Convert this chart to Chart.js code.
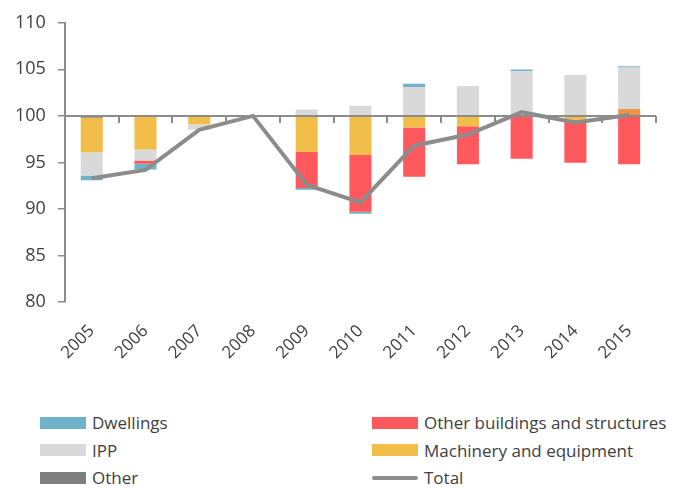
<!DOCTYPE html>
<html>
<head>
<meta charset="utf-8">
<script src="https://cdn.jsdelivr.net/npm/chart.js@4"></script>
<style>
  body { margin: 0; background: #fff; font-family: "Open Sans", sans-serif; }
  #wrap { position: relative; width: 676px; height: 488px; }
  #chartBox { position: absolute; left: 0; top: 0; width: 676px; height: 378px; }
  #legend {
    position: absolute; left: 40px; top: 409px;
    display: grid; grid-template-columns: 332px 300px;
  }
  .item { display: flex; align-items: center; height: 27.5px; font-size: 17px; color: #404040; white-space: nowrap; }
  .sw { width: 46px; height: 12px; margin-right: 6px; flex: none; }
  .sw.line { height: 4px; border-radius: 2px; }
</style>
</head>
<body>
<div id="wrap">
  <div id="chartBox"><canvas id="investChart"></canvas></div>
  <div id="legend"></div>
</div>
<script>
const years = ["2005", "2006", "2007", "2008", "2009", "2010", "2011", "2012", "2013", "2014", "2015"];

// contributions in index points (2008 = 100)
const dwellings      = [-0.5, -0.6, 0, 0, -0.2, -0.2, 0.35, 0, 0.18, 0, 0.14];
const otherBuildings = [0, -0.35, 0, 0, -3.87, -6.1, -5.3, -4.1, -4.6, -4.6, -5.2];
const ipp            = [-2.5, -1.2, -0.58, 0, 0.7, 1.1, 3.1, 3.2, 4.8, 4.4, 4.45];
const machinery      = [-3.7, -3.5, -0.8, 0, -3.87, -4.2, -1.25, -1.1, 0, -0.43, 0.75];
const other          = [-0.2, -0.1, -0.1, 0, 0, 0, 0, 0, 0, 0, 0];
const total          = [93.3, 94.2, 98.5, 100, 92.6, 90.7, 96.8, 98.0, 100.4, 99.3, 100.1];

const yTicks = [80, 85, 90, 95, 100, 105, 110];
const BASE = 100;

const legendOrder = ["Dwellings", "Other buildings and structures", "IPP", "Machinery and equipment", "Other", "Total"];

const textColor = "#404040";
const axisColor = "#8c8c8c";

// x axis is drawn at 100, with tick marks between the years
const baseAxis = {
  id: "baseAxis",
  beforeDatasetDraw(chart, args) {
    if (args.meta.type !== "line") return;
    const { ctx, chartArea, scales } = chart;
    const x = scales.x, y = scales.y;
    const yPix = y.getPixelForValue(0);
    const step = x.getPixelForValue(1) - x.getPixelForValue(0);
    ctx.save();
    ctx.strokeStyle = axisColor;
    ctx.lineWidth = 2;
    ctx.beginPath();
    ctx.moveTo(chartArea.left, yPix);
    ctx.lineTo(chartArea.right, yPix);
    for (let i = 0; i <= years.length; i++) {
      const px = Math.round(x.getPixelForValue(i) - step / 2);
      ctx.moveTo(px, yPix);
      ctx.lineTo(px, yPix + 7);
    }
    ctx.stroke();
    ctx.restore();
  },
};

function bar(label, values, color) {
  return {
    label: label,
    data: values,
    backgroundColor: color,
    borderWidth: 0,
    barPercentage: 1,
    categoryPercentage: 0.41,
    order: 1,
  };
}

const datasets = [
  bar("Other", other, "#7f7f7f"),
  bar("Machinery and equipment", machinery, machinery.map(v => (v > 0 ? "#f39443" : "#f2be4a"))),
  bar("IPP", ipp, "#d9d9d9"),
  bar("Other buildings and structures", otherBuildings, "#ff585d"),
  bar("Dwellings", dwellings, "#6fb2c9"),
  {
    type: "line",
    label: "Total",
    data: total.map(v => v - BASE),
    borderColor: axisColor,
    borderWidth: 4,
    pointRadius: 0,
    tension: 0,
    fill: false,
    stack: "total",
    order: 0,
  },
];

const chart = new Chart(document.getElementById("investChart"), {
  type: "bar",
  data: { labels: years, datasets: datasets },
  options: {
    responsive: true,
    maintainAspectRatio: false,
    animation: false,
    layout: { padding: { top: 6, right: 20, left: 3, bottom: 4 } },
    plugins: {
      legend: { display: false },
      tooltip: { enabled: false },
    },
    scales: {
      x: {
        stacked: true,
        grid: { display: false },
        border: { display: false },
        ticks: {
          minRotation: 45,
          maxRotation: 45,
          padding: 11,
          color: textColor,
          font: { family: "Open Sans", size: 17 },
        },
      },
      y: {
        stacked: true,
        min: yTicks[0] - BASE,
        max: yTicks[yTicks.length - 1] - BASE,
        afterBuildTicks(scale) {
          scale.ticks = yTicks.map(v => ({ value: v - BASE }));
        },
        border: { display: true, color: axisColor, width: 2 },
        grid: { drawOnChartArea: false, drawTicks: true, tickLength: 7, color: axisColor, lineWidth: 1.5 },
        ticks: {
          padding: 12,
          color: textColor,
          font: { family: "Open Sans", size: 18 },
          callback: v => String(v + BASE),
        },
      },
    },
  },
  plugins: [baseAxis],
});

// two-column legend, built from the chart's datasets
const legendEl = document.getElementById("legend");
legendOrder.forEach(name => {
  const ds = chart.data.datasets.find(d => d.label === name);
  const item = document.createElement("div");
  item.className = "item";
  const sw = document.createElement("span");
  if (ds.type === "line") {
    sw.className = "sw line";
    sw.style.background = ds.borderColor;
  } else {
    sw.className = "sw";
    sw.style.background = Array.isArray(ds.backgroundColor) ? ds.backgroundColor[0] : ds.backgroundColor;
  }
  const txt = document.createElement("span");
  txt.textContent = ds.label;
  item.appendChild(sw);
  item.appendChild(txt);
  legendEl.appendChild(item);
});
</script>
</body>
</html>
